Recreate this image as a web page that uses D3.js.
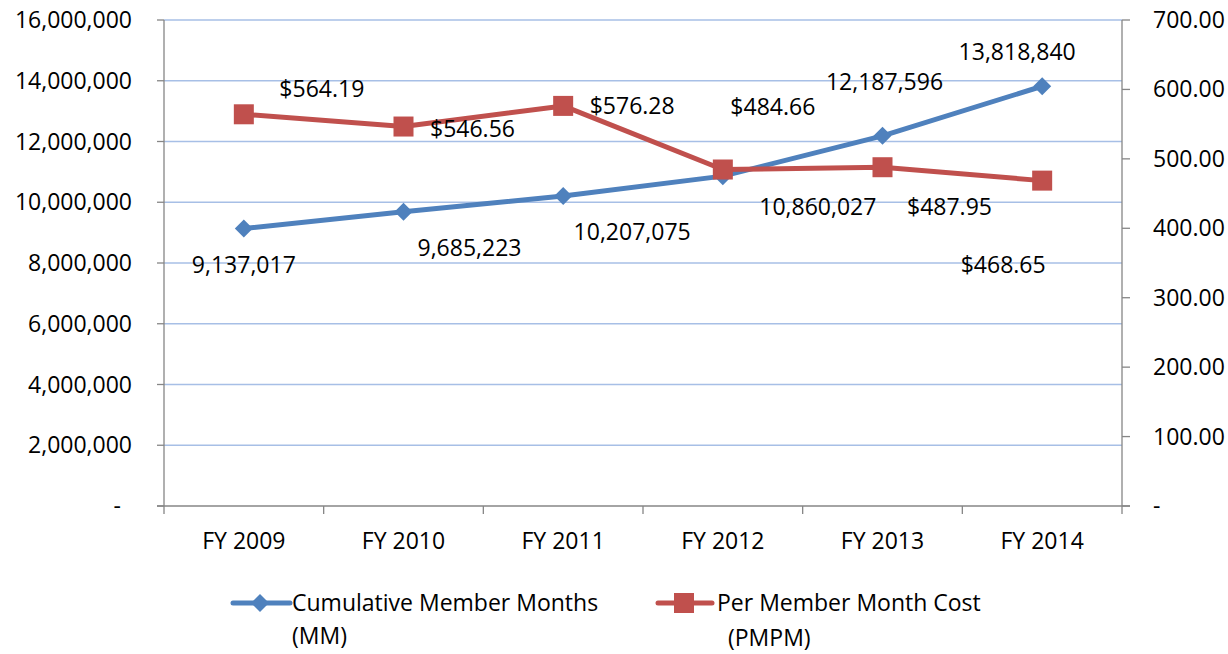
<!DOCTYPE html>
<html>
<head>
<meta charset="utf-8">
<script src="https://cdn.jsdelivr.net/npm/d3@7.9.0/dist/d3.min.js"></script>
<style>
  body { margin: 0; background: #fff; }
  svg text { font-family: "Open Sans", sans-serif; font-size: 23px; fill: #000; }
</style>
</head>
<body>
<svg id="chart" width="1228" height="654"></svg>
<script>
const years = ['FY 2009', 'FY 2010', 'FY 2011', 'FY 2012', 'FY 2013', 'FY 2014'];
const memberMonths = [9137017, 9685223, 10207075, 10860027, 12187596, 13818840];
const pmpmCost = [564.19, 546.56, 576.28, 484.66, 487.95, 468.65];
const leftTicks = [0, 2000000, 4000000, 6000000, 8000000, 10000000, 12000000, 14000000, 16000000];
const rightTicks = [0, 100, 200, 300, 400, 500, 600, 700];

// hand-placed label offsets, like the moved labels in the original
const mmLabelOffset = [[0, 36], [66, 36], [69, 36], [95, 31], [2, -54], [-25, -34]];
const pmLabelOffset = [[78, -25], [69, 2], [69, 0], [50, -63], [67, 40], [-39, 84]];

const blue = '#4f81bd';
const red = '#c0504d';
const axisGray = '#868686';
const gridBlue = '#a7bfe6';

const svg = d3.select('#chart');
const plot = { left: 164, right: 1122, top: 20, bottom: 506 };

const x = d3.scaleBand().domain(years).range([plot.left, plot.right]);
const yL = d3.scaleLinear().domain([0, 16000000]).range([plot.bottom, plot.top]);
const yR = d3.scaleLinear().domain([0, 700]).range([plot.bottom, plot.top]);
const cx = d => x(d) + x.bandwidth() / 2;

// gridlines
svg.append('g').selectAll('line').data(leftTicks.filter(d => d > 0)).join('line')
  .attr('x1', plot.left).attr('x2', plot.right)
  .attr('y1', d => yL(d)).attr('y2', d => yL(d))
  .attr('stroke', gridBlue).attr('stroke-width', 1.3);

// left axis
const fmtL = d => d === 0 ? '-' : d3.format(',')(d);
const gL = svg.append('g');
gL.append('line').attr('x1', plot.left).attr('x2', plot.left).attr('y1', plot.top).attr('y2', plot.bottom)
  .attr('stroke', axisGray).attr('stroke-width', 1.3);
gL.selectAll('line.tick').data(leftTicks).join('line').attr('class', 'tick')
  .attr('x1', plot.left - 7).attr('x2', plot.left)
  .attr('y1', d => yL(d)).attr('y2', d => yL(d))
  .attr('stroke', axisGray).attr('stroke-width', 1.3);
gL.selectAll('text').data(leftTicks).join('text')
  .attr('x', d => d === 0 ? 121 : 132).attr('y', d => yL(d)).attr('dy', '0.35em')
  .attr('text-anchor', 'end').text(fmtL);

// right axis
const gR = svg.append('g');
gR.append('line').attr('x1', plot.right).attr('x2', plot.right).attr('y1', plot.top).attr('y2', plot.bottom)
  .attr('stroke', axisGray).attr('stroke-width', 1.3);
gR.selectAll('line.tick').data(rightTicks).join('line').attr('class', 'tick')
  .attr('x1', plot.right).attr('x2', plot.right + 8)
  .attr('y1', d => yR(d)).attr('y2', d => yR(d))
  .attr('stroke', axisGray).attr('stroke-width', 1.3);
gR.selectAll('text').data(rightTicks).join('text')
  .attr('x', 1153).attr('y', d => yR(d)).attr('dy', '0.35em')
  .text(d => d === 0 ? '-' : d3.format('.2f')(d));

// bottom axis
const gB = svg.append('g');
gB.append('line').attr('x1', plot.left - 7).attr('x2', plot.right + 8).attr('y1', plot.bottom).attr('y2', plot.bottom)
  .attr('stroke', axisGray).attr('stroke-width', 1.3);
gB.selectAll('line.tick').data(years.map(d => x(d)).concat([plot.right])).join('line').attr('class', 'tick')
  .attr('x1', d => d).attr('x2', d => d).attr('y1', plot.bottom).attr('y2', plot.bottom + 8)
  .attr('stroke', axisGray).attr('stroke-width', 1.3);
gB.selectAll('text').data(years).join('text')
  .attr('x', cx).attr('y', 541).attr('dy', '0.35em').attr('text-anchor', 'middle').text(d => d);

// lines
const mmLine = d3.line().x((d, i) => cx(years[i])).y(d => yL(d));
const pmLine = d3.line().x((d, i) => cx(years[i])).y(d => yR(d));

svg.append('path').datum(memberMonths).attr('d', mmLine)
  .attr('fill', 'none').attr('stroke', blue).attr('stroke-width', 5).attr('stroke-linejoin', 'round');
svg.append('path').datum(pmpmCost).attr('d', pmLine)
  .attr('fill', 'none').attr('stroke', red).attr('stroke-width', 5).attr('stroke-linejoin', 'round');

const diamond = d3.symbol().type(d3.symbolSquare).size(162);
svg.append('g').selectAll('path').data(memberMonths).join('path')
  .attr('d', diamond)
  .attr('transform', (d, i) => `translate(${cx(years[i])},${yL(d)}) rotate(45)`)
  .attr('fill', blue);
svg.append('g').selectAll('rect').data(pmpmCost).join('rect')
  .attr('x', (d, i) => cx(years[i]) - 10).attr('y', d => yR(d) - 10)
  .attr('width', 20).attr('height', 20).attr('fill', red);

// data labels
svg.append('g').selectAll('text').data(memberMonths).join('text')
  .attr('x', (d, i) => cx(years[i]) + mmLabelOffset[i][0])
  .attr('y', (d, i) => yL(d) + mmLabelOffset[i][1])
  .attr('dy', '0.35em').attr('text-anchor', 'middle')
  .text(d => d3.format(',')(d));
svg.append('g').selectAll('text').data(pmpmCost).join('text')
  .attr('x', (d, i) => cx(years[i]) + pmLabelOffset[i][0])
  .attr('y', (d, i) => yR(d) + pmLabelOffset[i][1])
  .attr('dy', '0.35em').attr('text-anchor', 'middle')
  .text(d => '$' + d3.format('.2f')(d));

// legend
const lg = svg.append('g');
lg.append('line').attr('x1', 233).attr('x2', 290).attr('y1', 603).attr('y2', 603)
  .attr('stroke', blue).attr('stroke-width', 5).attr('stroke-linecap', 'round');
lg.append('path').attr('d', diamond).attr('transform', 'translate(260,603) rotate(45)').attr('fill', blue);
lg.append('text').attr('x', 292).attr('y', 603).attr('dy', '0.35em').text('Cumulative Member Months');
lg.append('text').attr('x', 292).attr('y', 636).attr('dy', '0.35em').text('(MM)');

lg.append('line').attr('x1', 658).attr('x2', 712).attr('y1', 603).attr('y2', 603)
  .attr('stroke', red).attr('stroke-width', 5).attr('stroke-linecap', 'round');
lg.append('rect').attr('x', 674).attr('y', 593).attr('width', 20).attr('height', 20).attr('fill', red);
lg.append('text').attr('x', 717).attr('y', 603).attr('dy', '0.35em').text('Per Member Month Cost');
lg.append('text').attr('x', 728).attr('y', 638).attr('dy', '0.35em').text('(PMPM)');
</script>
</body>
</html>
